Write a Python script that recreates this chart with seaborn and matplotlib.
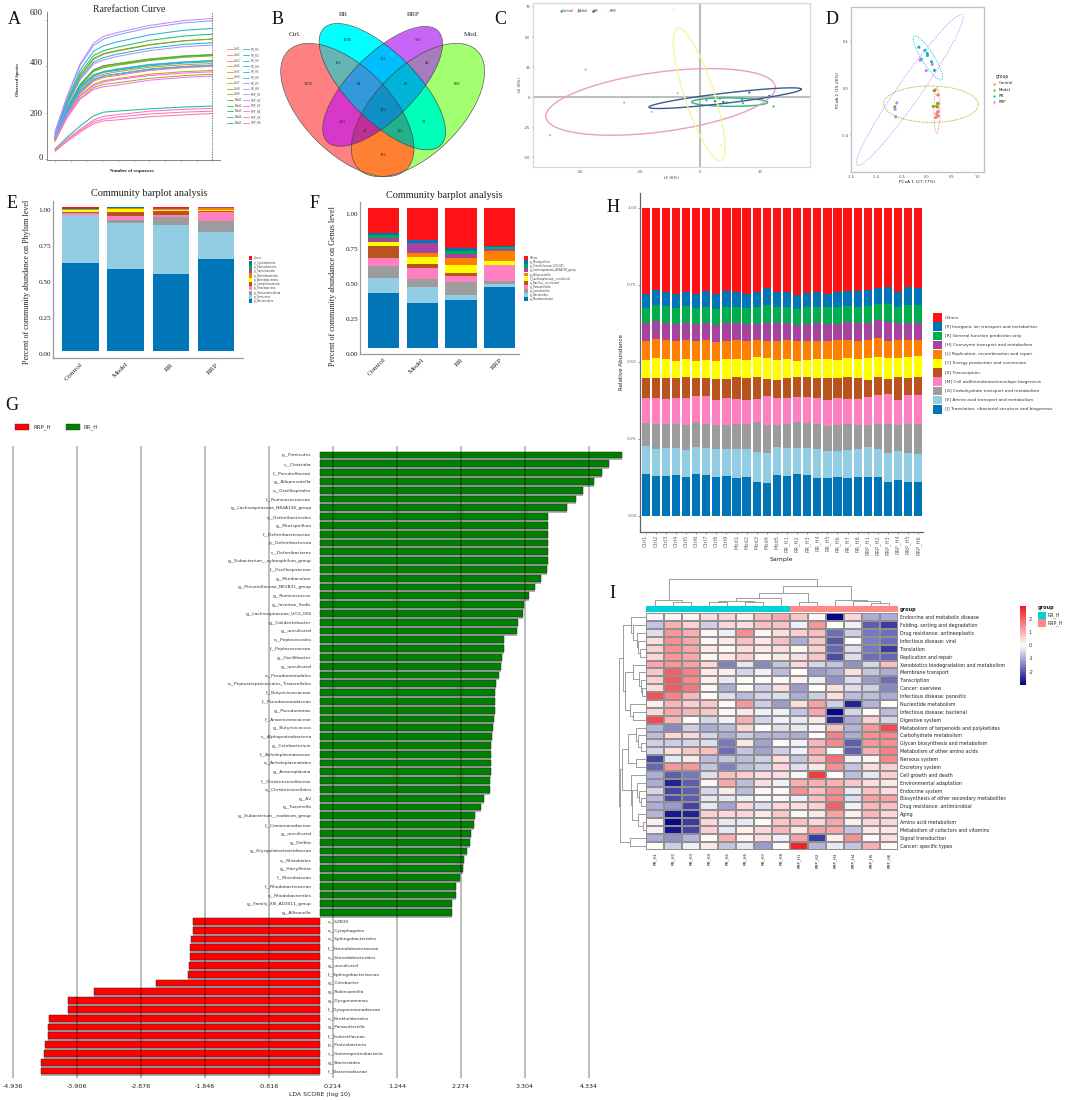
import numpy as np
import pandas as pd
import matplotlib
matplotlib.use("Agg")
import matplotlib.pyplot as plt
import seaborn as sns
from matplotlib.patches import Ellipse, Rectangle
from matplotlib.lines import Line2D
from matplotlib.colors import LinearSegmentedColormap, to_rgb
from matplotlib.transforms import ScaledTranslation

sns.set_theme(style="white")
plt.rcParams["font.family"] = ["DejaVu Sans"]
plt.rcParams["axes.unicode_minus"] = False
SERIF = "Liberation Serif"

W, H = 1065, 1100
fig = plt.figure(figsize=(W / 100, H / 100), dpi=100, facecolor="white")


def pax(l, t, r, b, **k):
    ax = fig.add_axes([l / W, 1 - b / H, (r - l) / W, (b - t) / H], **k)
    ax.patch.set_alpha(0)
    return ax


def shift_labels(labels, dx=0, dy=0):
    for lab in labels:
        lab.set_transform(lab.get_transform() + ScaledTranslation(dx / 100, -dy / 100, fig.dpi_scale_trans))


# ---------- shared palette for stacked bars
C_BLUE, C_LBLUE, C_GREY, C_PINK, C_BROWN, C_YELLOW = "#0076B8", "#92CDE3", "#9C9C9C", "#FF80C0", "#B9541F", "#FFFF00"
C_ORANGE, C_PURPLE, C_GREEN, C_BLUE2, C_RED = "#FF7F00", "#A6449F", "#00AE4D", "#0076B8", "#FF1216"
STACK_COLORS = [C_BLUE, C_LBLUE, C_GREY, C_PINK, C_BROWN, C_YELLOW, C_ORANGE, C_PURPLE, C_GREEN, C_BLUE2, C_RED]

# ---------- A: rarefaction
rare_x = [0, 0.075, 0.16, 0.245, 0.31, 0.39, 0.6, 0.82, 1.0]
rare_curves = {
    "Ctrl1": [82, 192, 288, 340, 360, 366, 388, 399, 405],
    "Ctrl2": [80, 188, 282, 336, 352, 360, 382, 394, 400],
    "Ctrl3": [95, 232, 356, 430, 452, 465, 492, 510, 518],
    "Ctrl4": [85, 210, 316, 380, 398, 406, 428, 442, 448],
    "Ctrl5": [84, 198, 296, 352, 366, 376, 396, 407, 412],
    "Ctrl6": [78, 184, 274, 322, 338, 346, 366, 377, 382],
    "Ctrl7": [76, 176, 260, 308, 322, 328, 348, 360, 366],
    "Ctrl8": [90, 215, 322, 385, 402, 412, 432, 445, 451],
    "Ctrl9": [88, 212, 318, 378, 394, 404, 425, 439, 445],
    "Mod1": [98, 236, 360, 434, 456, 468, 494, 511, 518],
    "Mod2": [92, 216, 322, 384, 403, 410, 430, 444, 450],
    "Mod3": [100, 243, 370, 447, 468, 482, 512, 531, 539],
    "Mod4": [42, 92, 142, 186, 202, 206, 216, 224, 228],
    "Mod5": [92, 212, 312, 364, 376, 386, 406, 418, 424],
    "RR_H1": [88, 206, 304, 358, 374, 382, 402, 414, 420],
    "RR_H2": [88, 200, 294, 344, 358, 366, 386, 398, 404],
    "RR_H3": [105, 252, 384, 466, 489, 505, 536, 556, 564],
    "RR_H4": [92, 228, 348, 418, 438, 452, 478, 495, 502],
    "RR_H5": [90, 210, 310, 362, 378, 388, 408, 419, 425],
    "RR_H6": [86, 198, 290, 342, 358, 366, 388, 399, 405],
    "RR_H7": [112, 262, 404, 490, 518, 535, 567, 588, 597],
    "RR_H8": [96, 226, 342, 410, 428, 442, 468, 485, 492],
    "RRP_H1": [118, 268, 412, 500, 530, 545, 577, 598, 607],
    "RRP_H2": [82, 178, 258, 300, 312, 318, 340, 352, 358],
    "RRP_H3": [84, 186, 270, 316, 332, 342, 360, 371, 376],
    "RRP_H4": [38, 84, 128, 168, 184, 190, 206, 214, 218],
    "RRP_H5": [32, 74, 116, 152, 164, 168, 182, 190, 196],
    "RRP_H6": [36, 80, 122, 160, 172, 180, 194, 202, 206],
}
samples = list(rare_curves)
rare_pal = dict(zip(samples, sns.husl_palette(len(samples), l=0.68, s=0.95)))
rare_df = pd.DataFrame([(s, x, v) for s, vals in rare_curves.items() for x, v in zip(rare_x, vals)],
                       columns=["sample", "depth", "species"])
axA = pax(47, 12, 220, 159.5)
sns.lineplot(data=rare_df, x="depth", y="species", hue="sample", palette=rare_pal, legend=False,
             estimator=None, lw=0.75, ax=axA)
axA.axvline(1.0, color="#444444", lw=0.5, ls=(0, (2, 1.5)))
axA.set_xlim(-0.051, 1.049)
axA.set_ylim(-3, 635)
axA.set_xticks(np.arange(0, 1.01, 0.1))
axA.set_xticklabels([])
axA.set_yticks([0, 200, 400, 600])
axA.set_yticklabels(["0", "200", "400", "600"], family=SERIF, fontsize=6.2, color="#222222")
axA.tick_params(axis="both", length=1.5, width=0.4, color="#888888", pad=1.5, bottom=True, left=True)
for lab, d in zip(axA.get_yticklabels(), [2, 0, 4, 8]):
    shift_labels([lab], dy=-d)
axA.set_xlabel("")
axA.set_ylabel("")
for s in ["top", "right"]:
    axA.spines[s].set_visible(False)
for s in ["left", "bottom"]:
    axA.spines[s].set_color("#888888")
    axA.spines[s].set_linewidth(0.7)

# ---------- B: venn
venn_sets = ["Ctrl.", "RR", "RRP", "Mod."]
venn_shapes = {"Ctrl.": (262, 330, 251, 130, 45), "RR": (367, 260, 248, 102, 45),
               "RRP": (368, 259, 235, 97, -45), "Mod.": (474, 330, 251, 130, -45)}
venn_colors = {(1, 0, 0, 0): "#FF8080", (0, 1, 0, 0): "#00FFFF", (0, 0, 1, 0): "#C765F7", (0, 0, 0, 1): "#A3FF70",
               (1, 1, 0, 0): "#66B5B5", (0, 1, 1, 0): "#00BFFF", (0, 0, 1, 1): "#A87CC0", (1, 0, 1, 0): "#D838C8",
               (0, 1, 0, 1): "#00FFBB", (1, 0, 0, 1): "#FF8033", (1, 1, 1, 0): "#3399DD", (0, 1, 1, 1): "#00B5D8",
               (1, 0, 1, 1): "#BF3098", (1, 1, 0, 1): "#22B090", (1, 1, 1, 1): "#1090C8"}
venn_counts = [1203, 1296, 569, 609, 131, 104, 40, 81, 65, 119, 210, 51, 58, 105, 125]
venn_where = [(143, 253), (262, 120), (474, 120), (592, 253), (233, 190), (368, 177), (501, 190), (297, 253),
              (437, 253), (368, 330), (245, 366), (493, 366), (316, 393), (420, 393), (368, 465)]
axB = pax(260, 0, 520, 180)
axB.set_xlim(0, 780)
axB.set_ylim(540, 0)
axB.axis("off")
gx, gy = np.meshgrid(np.linspace(0, 780, 1560), np.linspace(0, 540, 1080))
inside = []
for name in venn_sets:
    cx, cy, a, b, ang = venn_shapes[name]
    t = np.radians(ang)
    u = (gx - cx) * np.cos(t) + (gy - cy) * np.sin(t)
    v = -(gx - cx) * np.sin(t) + (gy - cy) * np.cos(t)
    inside.append((u / a) ** 2 + (v / b) ** 2 <= 1)
rgba = np.ones(gx.shape + (4,))
rgba[..., 3] = 0
for key, col in venn_colors.items():
    m = np.ones(gx.shape, bool)
    for k, ins in zip(key, inside):
        m &= ins if k else ~ins
    rgba[m] = list(to_rgb(col)) + [1]
axB.imshow(rgba, extent=(0, 780, 540, 0), aspect="auto", interpolation="antialiased")
for name in venn_sets:
    cx, cy, a, b, ang = venn_shapes[name]
    axB.add_patch(Ellipse((cx, cy), 2 * a, 2 * b, angle=ang, fill=False, ec="#444444", lw=0.45))
for n, (x, y) in zip(venn_counts, venn_where):
    axB.text(x, y, str(n), ha="center", va="center", family=SERIF, fontsize=3.2, color="#222222")
for name, (x, y) in zip(venn_sets, [(104, 104), (250, 42), (461, 42), (634, 104)]):
    axB.text(x, y, name, ha="center", va="center", family=SERIF, fontsize=5, color="#222222")


# ---------- C: score plot
def ellipse_xy(cx, cy, rx, ry, rho):
    t = np.linspace(0, 2 * np.pi, 200)
    return cx + rx * np.cos(t), cy + ry * np.cos(t - np.arccos(rho))


c_groups = ["Control", "Model", "RR", "RRP"]
c_colors = {"Control": "#2FB382", "Model": "#E8A0C4", "RR": "#3A5A92", "RRP": "#F6F6A0"}
c_ell = {"Control": (9.9, -4.1, 12.7, 3.5, -0.05), "Model": (-13.2, -3.9, 38.4, 27.7, 0.43),
         "RR": (8.4, -0.8, 25.5, 8.6, 0.87), "RRP": (-0.3, 2.5, 8.66, 55, -0.8)}
c_px = [24.6, 2.2, 6.7, 8.9, 14, 14.3, -38.3, -7.5, -25.4, -16.2, -50.2, 16.5, 23.2, 5, 7.8, -8.9, 0, 7, -1]
c_py = [-7.7, -2.5, -1.1, -4.4, -1.7, -5, 23, 3.3, -4.4, -12.2, -31.5, 3.9, 1.1, -3.3, -3.9, 72.7, 32, -40, -12]
c_pg = ["Control"] * 6 + ["Model"] * 5 + ["RR"] * 4 + ["RRP"] * 4
axC = pax(533, 3, 810, 167)
axC.axhline(0, color="#BDBDBD", lw=1.5)
axC.axvline(0, color="#BDBDBD", lw=1.5)
for g in c_groups:
    ex, ey = ellipse_xy(*c_ell[g])
    axC.plot(ex, ey, color=c_colors[g], lw=1.0)
sns.scatterplot(x=c_px, y=c_py, hue=c_pg, palette=c_colors, s=2.5, linewidth=0, legend=False, ax=axC)
axC.set_xlim(-55.9, 36.8)
axC.set_ylim(-58, 78.3)
axC.set_xticks([-40, -20, 0, 20])
axC.set_yticks([-50, -25, 0, 25, 50, 75])
axC.tick_params(labelsize=2.9, length=1, width=0.3, pad=1, colors="#555555", bottom=True, left=True)
axC.set_xlabel("t1 (6%)", fontsize=2.9, labelpad=1.5, color="#333333")
axC.set_ylabel("t2 (6%)", fontsize=2.9, labelpad=1.5, color="#333333")
for s in axC.spines.values():
    s.set_color("#D8D8D8")
    s.set_linewidth(0.9)

# ---------- D: PCoA
d_colors = {"Control": "#F8766D", "Model": "#7CAE00", "RR": "#00BFC4", "RRP": "#C77CFF"}
d_ell = {"Control": (0.2, -0.188, 0.06, 0.196, 0.05), "Model": (0.08, -0.136, 0.943, 0.156, -0.02),
         "RR": (0.02, 0.261, 0.293, 0.189, -0.87), "RRP": (-0.34, -0.014, 1.063, 0.646, 0.965)}
d_pc1 = [0.22, 0.213, 0.22, 0.193, 0.227, 0.18, 0.213, 0.167,
         0.147, 0.227, 0.127, 0.193, -0.64,
         -0.16, -0.04, 0.007, 0.013, 0.093, 0.153, -0.113,
         -0.133, 0.107, -0.013, -0.6, -0.633, -0.62]
d_pc2 = [-0.057, -0.128, -0.199, -0.219, -0.236, -0.25, -0.162, -0.014,
         -0.02, -0.131, -0.156, -0.153, -0.159,
         0.352, 0.324, 0.298, 0.281, 0.227, 0.153, 0.25,
         0.241, 0.205, 0.151, -0.125, -0.179, -0.244]
d_grp = ["Control"] * 8 + ["Model"] * 5 + ["RR"] * 7 + ["RRP"] * 6
axD = pax(851, 7, 984, 172)
for g in c_groups:
    ex, ey = ellipse_xy(*d_ell[g])
    axD.plot(ex, ey, color=d_colors[g], lw=0.7, ls=(0, (1.5, 1.2)), alpha=0.75)
sns.scatterplot(x=d_pc1, y=d_pc2, hue=d_grp, palette=d_colors, s=5, linewidth=0, legend=False, ax=axD)
axD.set_xlim(-1.513, 1.14)
axD.set_ylim(-0.716, 0.696)
axD.set_xticks([-1.5, -1, -0.5, 0, 0.5, 1])
axD.set_xticklabels(["-1.5", "-1.0", "-0.5", "0.0", "0.5", "1.0"])
axD.set_yticks([-0.4, 0, 0.4])
axD.set_yticklabels(["-0.4", "0.0", "0.4"])
axD.tick_params(labelsize=2.5, length=1, width=0.3, pad=1, colors="#444444", bottom=True, left=True)
axD.set_xlabel("PCoA 1 (27.77%)", fontsize=3.1, labelpad=1, color="#222222")
axD.set_ylabel("PCoA 2 (15.26%)", fontsize=3.1, labelpad=1, color="#222222")
for s in axD.spines.values():
    s.set_color("#BFBFBF")
    s.set_linewidth(0.9)


# ---------- stacked bars helper
def stacked(ax, cats, table, width):
    bottom = np.zeros(len(cats))
    for col, vals in zip(STACK_COLORS, table):
        vals = np.asarray(vals, float)
        sns.barplot(x=cats, y=vals, bottom=bottom, color=col, saturation=1, width=width, errorbar=None,
                    linewidth=0, ax=ax)
        bottom = bottom + vals


def comm_axes(ax, xlim, ylim, ylabel, label_dy):
    ax.set_xlim(*xlim)
    ax.set_ylim(*ylim)
    ax.set_yticks([0, 0.25, 0.5, 0.75, 1.0])
    ax.set_yticklabels(["0.00", "0.25", "0.50", "0.75", "1.00"], family=SERIF, fontsize=5.2, color="#222222")
    ax.tick_params(axis="y", length=0, pad=1.5)
    ax.tick_params(axis="x", length=1, width=0.4, color="#999999", pad=1.5, bottom=True)
    plt.setp(ax.get_xticklabels(), rotation=45, ha="right", rotation_mode="anchor", family=SERIF, fontsize=5.4,
             color="#222222")
    shift_labels(ax.get_yticklabels(), dy=label_dy)
    ax.set_ylabel("")
    for s in ["top", "right"]:
        ax.spines[s].set_visible(False)
    for s in ["left", "bottom"]:
        ax.spines[s].set_color("#999999")
        ax.spines[s].set_linewidth(0.9)


# ---------- E: phylum
groups = ["Control", "Model", "RR", "RRP"]
e_bacteroidota = [0.611, 0.569, 0.537, 0.639]
e_firmicutes = [0.336, 0.320, 0.343, 0.192]
e_verruco = [0.000, 0.023, 0.051, 0.072]
e_proteo = [0.016, 0.030, 0.018, 0.067]
e_campilo = [0.007, 0.026, 0.028, 0.005]
e_actino = [0.011, 0.023, 0.007, 0.009]
e_deferri = [0.007, 0.005, 0.005, 0.014]
e_spiro = [0.002, 0.001, 0.007, 0.001]
e_patesci = [0.001, 0.001, 0.000, 0.000]
e_cyano = [0.001, 0.001, 0.001, 0.000]
e_others = [0.008, 0.001, 0.003, 0.001]
e_table = [e_bacteroidota, e_firmicutes, e_verruco, e_proteo, e_campilo, e_actino, e_deferri, e_spiro, e_patesci,
           e_cyano, e_others]
e_legend = ["others", "p__Cyanobacteria", "p__Patescibacteria", "p__Spirochaetota", "p__Deferribacterota",
            "p__Actinobacteriota", "p__Campilobacterota", "p__Proteobacteria", "p__Verrucomicrobiota", "p__Firmicutes",
            "p__Bacteroidota"]
axE = pax(53.3, 200.7, 243.3, 358.3)
stacked(axE, groups, e_table, 0.81)
comm_axes(axE, (-0.6, 3.6), (-0.049, 1.046), "", 2.7)

# ---------- F: genus
f_muribac = [0.395, 0.323, 0.342, 0.438]
f_bacteroides = [0.105, 0.110, 0.038, 0.021]
f_lactobac = [0.086, 0.062, 0.089, 0.019]
f_parasut = [0.060, 0.077, 0.045, 0.115]
f_unclass = [0.086, 0.031, 0.019, 0.000]
f_lachno_unc = [0.026, 0.048, 0.058, 0.029]
f_allopre = [0.003, 0.026, 0.055, 0.072]
f_nk4a136 = [0.024, 0.072, 0.026, 0.012]
f_ucg001 = [0.024, 0.000, 0.024, 0.019]
f_mucisp = [0.012, 0.024, 0.022, 0.005]
f_others = [0.179, 0.227, 0.282, 0.270]
f_table = [f_muribac, f_bacteroides, f_lactobac, f_parasut, f_unclass, f_lachno_unc, f_allopre, f_nk4a136, f_ucg001,
           f_mucisp, f_others]
f_legend = ["Others", "g__Mucispirillum", "g__Prevotellaceae_UCG-001", "g__Lachnospiraceae_NK4A136_group",
            "g__Alloprevotella", "f__Lachnospiraceae__uncultured", "o__Bacillus__uncultured", "g__Parasutterella",
            "g__Lactobacillus", "g__Bacteroides", "g__Muribaculaceae"]
axF = pax(360, 201.7, 519.3, 353.7)
stacked(axF, groups, f_table, 0.8)
comm_axes(axF, (-0.6, 3.5), (-0.043, 1.048), "", 6)

# ---------- H: function stack
h_samples = samples
h_lv_j = [.135, .129, .131, .133, .126, .135, .133, .126, .129, .124, .127, .110, .107, .132, .130, .136, .133, .124, .122, .125, .123, .125, .126, .126, .110, .118, .111, .109]
h_lv_e = [.226, .218, .221, .221, .214, .225, .221, .216, .218, .216, .218, .206, .203, .224, .221, .221, .220, .217, .211, .212, .214, .217, .224, .216, .204, .211, .203, .201]
h_lv_g = [.301, .298, .299, .299, .295, .305, .299, .295, .295, .298, .298, .306, .295, .296, .298, .305, .303, .298, .293, .295, .299, .296, .296, .299, .298, .295, .299, .299]
h_lv_m = [.383, .383, .379, .382, .382, .388, .388, .375, .383, .378, .375, .379, .388, .381, .381, .386, .386, .383, .375, .381, .379, .379, .386, .392, .394, .376, .393, .391]
h_lv_k = [.446, .448, .448, .446, .450, .447, .446, .444, .445, .449, .447, .451, .443, .442, .448, .450, .450, .446, .447, .448, .450, .447, .442, .452, .445, .449, .448, .450]
h_lv_c = [.505, .512, .509, .503, .510, .504, .506, .502, .509, .510, .505, .514, .512, .505, .509, .503, .505, .509, .508, .506, .512, .509, .512, .516, .513, .511, .515, .517]
h_lv_l = [.567, .573, .571, .567, .571, .567, .569, .564, .568, .570, .568, .569, .568, .567, .571, .567, .568, .568, .567, .569, .570, .568, .570, .578, .568, .570, .571, .572]
h_lv_h = [.624, .631, .627, .621, .625, .623, .625, .619, .624, .624, .621, .623, .625, .624, .624, .619, .623, .624, .622, .623, .628, .624, .625, .635, .628, .624, .626, .627]
h_lv_r = [.675, .684, .680, .673, .680, .674, .678, .672, .678, .678, .675, .677, .683, .676, .676, .670, .677, .677, .676, .678, .681, .678, .681, .687, .686, .679, .685, .684]
h_lv_p = [.721, .733, .727, .720, .727, .721, .728, .718, .728, .727, .719, .727, .738, .725, .726, .717, .722, .727, .721, .727, .729, .728, .734, .739, .741, .727, .741, .740]
h_lv_o = [1.0] * 28
h_levels = np.array([h_lv_j, h_lv_e, h_lv_g, h_lv_m, h_lv_k, h_lv_c, h_lv_l, h_lv_h, h_lv_r, h_lv_p, h_lv_o])
h_table = np.diff(np.vstack([np.zeros(28), h_levels]), axis=0)
h_legend = ["Others", "[P] Inorganic ion transport and metabolism", "[R] General function prediction only",
            "[H] Coenzyme transport and metabolism", "[L] Replication, recombination and repair",
            "[C] Energy production and conversion", "[K] Transcription", "[M] Cell wall/membrane/envelope biogenesis",
            "[G] Carbohydrate transport and metabolism", "[E] Amino acid transport and metabolism",
            "[J] Translation, ribosomal structure and biogenesis"]
axH = pax(640, 192.7, 923.3, 531.7)
stacked(axH, h_samples, h_table, 0.82)
axH.set_xlim(-0.56, 27.5)
axH.set_ylim(-0.051, 1.048)
axH.set_yticks([0, 0.25, 0.5, 0.75, 1.0])
axH.set_yticklabels(["0.00", "0.25", "0.50", "0.75", "1.00"])
axH.tick_params(axis="y", labelsize=3.2, labelcolor="#666666", length=1.2, width=0.4, pad=1, left=True, color="#555555")
axH.tick_params(axis="x", labelsize=3.7, labelcolor="#666666", length=1.2, width=0.4, pad=1, bottom=True, color="#555555")
plt.setp(axH.get_xticklabels(), rotation=90)
axH.set_xlabel("Sample", fontsize=4.5, labelpad=1.5, color="#222222")
axH.set_ylabel("Relative Abundance", fontsize=4.1, labelpad=2, color="#222222")
for s in ["top", "right"]:
    axH.spines[s].set_visible(False)
for s in ["left", "bottom"]:
    axH.spines[s].set_color("#666666")
    axH.spines[s].set_linewidth(0.9)

# ---------- G: LDA
lda_names = ["p__Firmicutes", "c__Clostridia", "f__Prevotellaceae", "g__Alloprevotella", "o__Oscillospirales",
             "f__Ruminococcaceae", "g__Lachnospiraceae_NK4A136_group", "o__Deferribacterales", "g__Mucispirillum",
             "f__Deferribacteraceae", "p__Deferribacterota", "c__Deferribacteres",
             "g__Eubacterium__xylanophilum_group", "f__Oscillospiraceae", "g__Muribaculum",
             "g__Prevotellaceae_NK3B31_group", "g__Ruminococcus", "g__Incertae_Sedis", "g__Lachnospiraceae_UCG_006",
             "g__Colidextribacter", "g__uncultured", "o__Peptococcales", "f__Peptococcaceae", "g__Oscillibacter",
             "g__uncultured", "o__Pseudomonadales", "o__Peptostreptococcales_Tissierellales", "f__Butyricicoccaceae",
             "f__Pseudomonadaceae", "g__Pseudomonas", "f__Anaerovoracaceae", "g__Butyricicoccus",
             "c__Alphaproteobacteria", "g__Cetobacterium", "f__Acholeplasmataceae", "o__Acholeplasmatales",
             "g__Anaeroplasma", "f__Christensenellaceae", "o__Christensenellales", "g__A2", "g__Tuzzerella",
             "g__Eubacterium__nodatum_group", "f__Comamonadaceae", "g__uncultured", "g__Delftia",
             "g__Erysipelatoclostridiaceae", "o__Rhizobiales", "g__Harryflintia", "f__Rhizobiaceae",
             "f__Rhodobacteraceae", "o__Rhodobacterales", "g__Family_XIII_AD3011_group", "g__Allisonella",
             "o__SZB30", "o__Cytophagales", "o__Sphingobacteriales", "f__Steroidobacteraceae", "o__Steroidobacterales",
             "g__uncultured", "f__Sphingobacteriaceae", "g__Citrobacter", "g__Robinsoniella", "g__Dysgonomonas",
             "f__Dysgonomonadaceae", "o__Burkholderiales", "g__Parasutterella", "f__Sutterellaceae",
             "p__Proteobacteria", "c__Gammaproteobacteria", "g__Bacteroides", "f__Bacteroidaceae"]
lda_scores = [4.866, 4.663, 4.548, 4.415, 4.237, 4.122, 3.982, 3.677, 3.677, 3.677, 3.677, 3.677, 3.670, 3.664, 3.569,
              3.473, 3.378, 3.289, 3.270, 3.187, 3.174, 2.971, 2.964, 2.939, 2.913, 2.888, 2.837, 2.831, 2.824, 2.818,
              2.812, 2.786, 2.774, 2.754, 2.754, 2.754, 2.754, 2.735, 2.735, 2.640, 2.595, 2.494, 2.481, 2.443, 2.424,
              2.366, 2.322, 2.309, 2.265, 2.201, 2.195, 2.137, 2.131,
              -2.029, -2.036, -2.074, -2.080, -2.080, -2.106, -2.112, -2.627, -3.620, -4.046, -4.046, -4.351, -4.364,
              -4.364, -4.415, -4.427, -4.478, -4.478]
lda_ticks = [-4.936, -3.906, -2.876, -1.846, -0.816, 0.214, 1.244, 2.274, 3.304, 4.334]
lda_rows = np.arange(len(lda_names))
lda_scores = np.array(lda_scores)
lda_group = np.where(lda_scores > 0, "RR_H", "RRP_H")
axG = pax(0, 446, 640, 1078)
sns.barplot(x=lda_scores, y=lda_rows + 0.36, orient="y", native_scale=True, color="#B4B4B4", saturation=1,
            width=0.5, errorbar=None, linewidth=0, ax=axG)
sns.barplot(x=lda_scores, y=lda_rows, hue=lda_group, orient="y", native_scale=True, dodge=False,
            palette={"RR_H": "#008000", "RRP_H": "#FF0000"}, saturation=1, width=0.76, errorbar=None,
            edgecolor="#2A2A2A", linewidth=0.35, legend=False, ax=axG)
for t in lda_ticks:
    axG.axvline(t, color="#000000", alpha=0.33, lw=1.1, zorder=6)
axG.set_xlim(-319.5 / 62.16, 320.5 / 62.16)
axG.set_ylim(70.8, -1.02)
axG.set_xticks(lda_ticks)
axG.set_xticklabels([f"{t:.3f}" for t in lda_ticks])
axG.set_yticks([])
axG.tick_params(axis="x", labelsize=4.6, length=0, pad=4, labelcolor="#222222")
axG.set_xlabel("LDA SCORE (log 10)", fontsize=4.4, labelpad=2.5, color="#222222")
axG.set_ylabel("")
for s in axG.spines.values():
    s.set_visible(False)
for r, n, v in zip(lda_rows, lda_names, lda_scores):
    if v > 0:
        axG.text(-0.127, r + 0.05, n, ha="right", va="center", fontsize=3.15, color="#333333", zorder=7)
    else:
        axG.text(0.127, r + 0.05, n, ha="left", va="center", fontsize=3.15, color="#333333", zorder=7)

# ---------- I: heatmap
hm_rows = ["Endocrine and metabolic disease", "Folding, sorting and degradation", "Drug resistance: antineoplastic",
           "Infectious disease: viral", "Translation", "Replication and repair",
           "Xenobiotics biodegradation and metabolism", "Membrane transport", "Transcription", "Cancer: overview",
           "Infectious disease: parasitic", "Nucleotide metabolism", "Infectious disease: bacterial",
           "Digestive system", "Metabolism of terpenoids and polyketides", "Carbohydrate metabolism",
           "Glycan biosynthesis and metabolism", "Metabolism of other amino acids", "Nervous system",
           "Excretory system", "Cell growth and death", "Environmental adaptation", "Endocrine system",
           "Biosynthesis of other secondary metabolites", "Drug resistance: antimicrobial", "Aging",
           "Amino acid metabolism", "Metabolism of cofactors and vitamins", "Signal transduction",
           "Cancer: specific types"]
hm_cols = ["RR_H1", "RR_H2", "RR_H3", "RR_H4", "RR_H5", "RR_H6", "RR_H7", "RR_H8",
           "RRP_H1", "RRP_H2", "RRP_H3", "RRP_H4", "RRP_H5", "RRP_H6"]
hm_values = [
    [.1, .1, .1, .4, .5, .2, .8, 1.1, .7, .1, -2.9, .5, -1, -1],
    [-.7, 1, .6, -.6, .5, .4, .8, .8, -.2, 1.3, 0, -.2, -1.9, -2.3],
    [-.4, 1.3, 1, .1, -.2, 1.4, .1, .4, .6, .8, -1.7, -.6, -1.6, -1.7],
    [.4, 1.4, 1.1, .1, .3, .8, .3, .8, -1., .7, -2, .05, -1.5, -1.7],
    [.6, 1.4, 1.1, .3, .1, .4, .3, .4, .1, .6, -1.8, -.4, -1.6, -2.3],
    [.5, 1.3, 1.1, .1, .3, .6, .1, .3, .4, .7, -2.1, -.4, -1.7, -1.8],
    [1.1, 1.3, 1.2, .5, -1.5, -.3, -1.4, -.7, .5, -.5, -.7, -1.3, -.5, .8],
    [.7, 2.0, 1.6, .3, .2, -.5, -.2, -.8, .05, -1.2, -1, .4, -.7, -1],
    [.6, 2.1, 1.5, .2, -.3, .05, .05, .05, .2, -.2, -1.3, -.4, -1.2, -1.7],
    [.4, 2.1, 1.7, .1, -1, .05, -.6, .4, -1.2, 0, .4, -.4, -.6, -1.4],
    [2.2, 1.6, .9, .05, -.4, -.8, -.5, -.4, -1, -.6, .4, -.8, -.8, -1],
    [.2, .9, .6, .7, .05, 1.3, -.6, -1.2, .4, 1.2, -.6, -2.6, -.9, 0],
    [.5, 1.1, .9, .7, .1, .3, -.2, -.2, -.7, 1.1, -2.9, -.5, .05, -.8],
    [2.3, .9, .05, -.5, -.2, 1, -.5, -.2, -.3, .3, -2.5, -1, .6, -.5],
    [-.9, -1.4, -.6, -1, -.8, .5, .05, -.4, -.3, -.1, .8, -.9, 1.3, 2.3],
    [-.8, .5, .5, -.5, -1, -.6, -.9, -.9, -1, .05, 1.6, -1, 1.4, 1.5],
    [-.6, -.6, -.5, -.4, -1.6, .3, -1.1, .05, -.2, .9, 1.5, -1.9, 1.3, 1.4],
    [-.5, .4, .7, .8, -1.7, -.7, -1.1, -.6, -.2, 1, .05, -1.9, 1, 1.6],
    [-2.2, -.3, .3, -.8, -.7, -.8, -.6, .4, -.7, .8, 1.8, -.2, .1, 1.5],
    [-1.8, 1.3, 1.3, -.7, -1.5, -.8, -.6, .5, -.4, .3, 1.4, -.7, .4, .6],
    [-1, -1.9, -1.6, -.4, .8, .6, .4, .4, .1, 2.5, .05, -.8, -.3, .6],
    [-1, -2.6, -1.9, .1, 1.1, -.8, .4, -.2, 1, 1, 1, .7, .4, .3],
    [-.5, -2.2, -1.9, -.5, .3, -.8, .1, .1, 1.4, .8, 1.4, -.3, .8, .4],
    [-.8, -2.1, -1.9, -.3, -.3, -.2, -.1, -.1, -.2, .8, 1.5, -.4, 1.2, 1.2],
    [-1, -1.2, -2.2, -.3, -1.1, .5, -.4, .5, .4, .6, 2, -.2, .9, .8],
    [-.9, -2.7, -2.6, .6, .5, .5, .3, .7, .1, .3, 1.2, .2, .9, .5],
    [.2, -2.9, -2.3, .5, -.3, -.3, .05, .7, .8, .5, 1.1, .2, .5, .5],
    [-.2, -2.7, -2.2, .6, -.3, .2, .5, .9, .3, 1.2, 1.1, -.7, .3, .3],
    [-1, -1.3, -.9, .05, 1, .1, .4, -.2, 1.2, -2.3, .2, 1.4, .05, .4],
    [0, -.6, -.2, .3, -.7, -.3, -1.2, .05, 2.8, -.9, -.3, -.7, 1, .05],
]
hm_cmap = LinearSegmentedColormap.from_list("nwr", ["#000080", "#FFFFFF", "#F01820"])
axI = pax(646, 613.3, 898, 849.7)
caxI = pax(1020.3, 606, 1025.7, 685)
sns.heatmap(pd.DataFrame(hm_values, index=hm_rows, columns=hm_cols), cmap=hm_cmap, vmin=-3, vmax=2.95,
            linewidths=0.25, linecolor="#909090", cbar_ax=caxI, ax=axI, xticklabels=True, yticklabels=True)
axI.yaxis.tick_right()
axI.tick_params(axis="y", labelsize=3.45, length=0, pad=1.5, labelrotation=0, labelcolor="#222222")
axI.tick_params(axis="x", labelsize=2.9, length=0, pad=2, labelrotation=90, labelcolor="#222222")
caxI.tick_params(labelsize=3.5, length=0, pad=2, labelcolor="#333333")
caxI.set_yticks([-2, -1, 0, 1, 2])
axI.collections[0].colorbar.outline.set_visible(False)

# group strip
hm_group = ["RR_H"] * 8 + ["RRP_H"] * 6
group_colors = {"RR_H": "#00D0D8", "RRP_H": "#FF8A84"}
axS = pax(646, 606, 898, 612.3)
axS.set_xlim(0, 14)
axS.set_ylim(0, 1)
axS.axis("off")
for i, g in enumerate(hm_group):
    axS.add_patch(Rectangle((i, 0), 1, 1, color=group_colors[g], lw=0))

# dendrograms
top_tree = (1.0, (0.2, 0, (0.12, 1, 2)),
            (0.73, (0.45, (0.27, (0.19, (0.12, 3, 4), (0.15, 5, 6)), 7), (0.13, 8, 9)),
             (0.2, 10, (0.16, 11, (0.1, 12, 13)))))
row_tree = (1.0,
            (0.82, (0.55, 0, (0.46, 1, (0.34, 2, (0.28, 3, (0.22, 4, 5))))),
             (0.76, (0.48, 6, (0.24, 7, (0.19, 8, (0.16, 9, 10)))), (0.58, 11, (0.46, 12, 13)))),
            (0.94,
             (0.88, (0.64, (0.36, 14, (0.28, 15, (0.2, 16, 17))), (0.36, 18, 19)),
              (0.55, 20, (0.5, (0.34, 21, (0.25, 22, (0.18, 23, 24))), (0.3, 25, (0.1, 26, 27))))),
             (0.6, 28, 29)))


def draw_tree(ax, node, horizontal):
    if isinstance(node, int):
        return node + 0.5, 0.0
    h, a, b = node
    pa, ha = draw_tree(ax, a, horizontal)
    pb, hb = draw_tree(ax, b, horizontal)
    xs, ys = [pa, pa, pb, pb], [ha, h, h, hb]
    if horizontal:
        ax.plot(xs, ys, color="#777777", lw=0.5, solid_capstyle="butt")
    else:
        ax.plot(ys, xs, color="#777777", lw=0.5, solid_capstyle="butt")
    return (pa + pb) / 2, h


axT = pax(646, 578, 898, 605.7)
axT.set_xlim(0, 14)
axT.set_ylim(0, 1.02)
axT.axis("off")
draw_tree(axT, top_tree, True)
axL = pax(618, 613.3, 646, 849.7)
axL.set_ylim(30, 0)
axL.set_xlim(1.02, 0)
axL.axis("off")
draw_tree(axL, row_tree, False)

# ---------- overlay with legends, letters, titles
ov = fig.add_axes([0, 0, 1, 1], zorder=20)
ov.set_xlim(0, W)
ov.set_ylim(H, 0)
ov.axis("off")


def T(x, y, s, size, **kw):
    kw.setdefault("ha", "center")
    kw.setdefault("va", "center")
    kw.setdefault("color", "#222222")
    ov.text(x, y, s, fontsize=size, **kw)


for letter, x, y in [("A", 14, 19), ("B", 278, 19), ("C", 500, 19), ("D", 832, 19), ("E", 12, 203), ("F", 315, 204),
                     ("G", 12, 405), ("H", 613, 207), ("I", 612, 594)]:
    T(x, y, letter, 13, family=SERIF, color="#111111")

T(129, 10, "Rarefaction Curve", 7, family=SERIF)
T(18, 80, "Observed Species", 3.2, family=SERIF, weight="bold", rotation=90)
T(132, 171, "Number of sequences", 3.5, family=SERIF, weight="bold")
for i, s in enumerate(samples):
    col = i // 14
    row = i % 14
    y = 49.3 + 5.64 * row
    x0 = 226.7 + 16.4 * col
    ov.add_line(Line2D([x0, x0 + 6], [y, y], color=rare_pal[s], lw=0.6))
    T(x0 + 7.6, y, s, 2.0, ha="left", color="#555555")

# C legend
for g, x0, xt in zip(c_groups, [561, 578, 593, 608], [568, 583, 596, 613]):
    ov.add_line(Line2D([x0], [11], marker="o", ms=0.8, color=c_colors[g], lw=0))
    T(xt, 11, g, 2.4, color="#333333")

# D legend
T(996, 76.5, "group", 3.3, ha="left")
for i, g in enumerate(c_groups):
    y = 83.5 + 6.25 * i
    ov.add_line(Line2D([993.5], [y], marker="o", ms=1.6, mew=0, color=d_colors[g], lw=0))
    T(999, y, g, 2.8, ha="left")


def box_legend(labels, x0, y0, dy, side, xt, size):
    for i, (lab, col) in enumerate(zip(labels, STACK_COLORS[::-1])):
        y = y0 + dy * i
        ov.add_patch(Rectangle((x0, y - dy * 0.47), side, dy * 0.94, color=col, lw=0))
        T(xt, y, lab, size, ha="left", color="#333333")


T(149, 194, "Community barplot analysis", 7.4, family=SERIF)
T(27, 282, "Percent of community abundance on Phylum level", 5.9, family=SERIF, rotation=90)
box_legend(e_legend, 248.5, 258.3, 4.3, 3.8, 254, 1.8)
T(444, 196, "Community barplot analysis", 7.4, family=SERIF)
T(333, 286, "Percent of community abundance on Genus level", 5.9, family=SERIF, rotation=90)
box_legend(f_legend, 524, 258, 4.13, 4.3, 530, 1.8)
box_legend(h_legend, 933, 317.6, 9.16, 8.7, 945, 3.05)

# G legend
for x0, col, lab, xt in [(15, "#FF0000", "RRP_H", 33), (66, "#008000", "RR_H", 84)]:
    ov.add_patch(Rectangle((x0, 424), 13.5, 6, fc=col, ec="#333333", lw=0.3))
    T(xt, 427, lab, 4, ha="left", color="#333333")

# I labels
T(900, 609.3, "group", 3.6, ha="left", weight="bold")
T(1037.5, 608, "group", 3.6, ha="left", weight="bold")
for i, g in enumerate(["RR_H", "RRP_H"]):
    ov.add_patch(Rectangle((1037.5, 611.7 + 7.6 * i), 8, 7.4, color=group_colors[g], lw=0))
    T(1047, 615.4 + 7.6 * i, g, 3.4, ha="left", color="#333333")

fig.savefig("out.png", dpi=100, facecolor="white")
